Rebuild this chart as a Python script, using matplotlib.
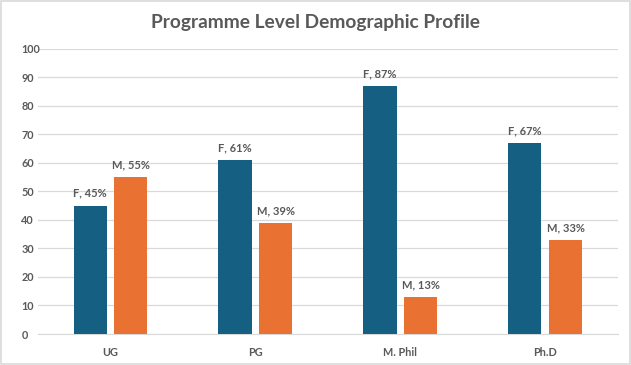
import matplotlib
matplotlib.use("Agg")
import matplotlib.pyplot as plt
import numpy as np

categories = ["UG", "PG", "M. Phil", "Ph.D"]
female = [45, 61, 87, 67]
male = [55, 39, 13, 33]
yticks = [0, 10, 20, 30, 40, 50, 60, 70, 80, 90, 100]

plt.rcParams['font.family'] = ['Lato', 'DejaVu Sans']
gray = "#595959"
blue = "#156082"
orange = "#E97132"

fig = plt.figure(figsize=(6.31, 3.65), dpi=100)
fig.patches.append(plt.Rectangle((0.0015, 0.0025), 0.997, 0.995, transform=fig.transFigure,
                                 fill=False, edgecolor="#D9D9D9", linewidth=1.2))
ax = fig.add_axes([0.0602, 0.0849, 0.919, 0.7813])

x = np.arange(len(categories))
w = 0.228
off = 0.141
b1 = ax.bar(x - off, female, w, color=blue, zorder=3)
b2 = ax.bar(x + off, male, w, color=orange, zorder=3)

for xi, v in zip(x, female):
    ax.annotate(f"F, {v}%", (xi - off, v), xytext=(0, 5), textcoords="offset points",
                ha="center", va="bottom", fontsize=8, fontweight="bold", color=gray)
for xi, v in zip(x, male):
    ax.annotate(f"M, {v}%", (xi + off, v), xytext=(0, 5), textcoords="offset points",
                ha="center", va="bottom", fontsize=8, fontweight="bold", color=gray)

ax.set_xlim(-0.5, len(categories) - 0.5)
ax.set_ylim(0, 100)
ax.set_yticks(yticks)
ax.set_xticks(x)
ax.set_xticklabels(categories)
ax.yaxis.grid(True, color="#D9D9D9", linewidth=0.9, zorder=0)
ax.set_axisbelow(True)
for s in ["top", "right", "left"]:
    ax.spines[s].set_visible(False)
ax.spines["bottom"].set_color("#D9D9D9")
ax.tick_params(axis="both", length=0, labelsize=7.8, colors=gray)
ax.tick_params(axis="x", pad=9)
ax.tick_params(axis="y", pad=12)
for lab in ax.get_xticklabels() + ax.get_yticklabels():
    lab.set_fontweight("bold")
for lab in ax.get_yticklabels():
    lab.set_ha("left")

fig.text(0.5, 0.937, "Programme Level Demographic Profile", ha="center", va="center",
         fontsize=13.8, fontweight="bold", color=gray)

fig.savefig("out.png", dpi=100)
